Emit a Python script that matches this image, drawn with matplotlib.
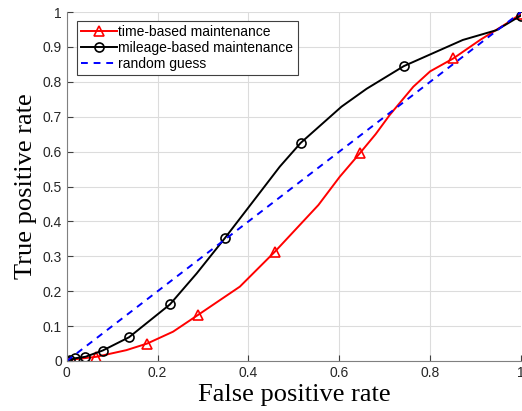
import matplotlib
matplotlib.use("Agg")
import matplotlib.pyplot as plt

# time-based maintenance curve (markers on a subset of points)
time_fpr = [0.0, 0.005, 0.065, 0.131, 0.177, 0.234, 0.289, 0.381, 0.458,
            0.554, 0.601, 0.645, 0.68, 0.711, 0.763, 0.80, 0.851, 0.91,
            0.968, 1.0]
time_tpr = [0.0, 0.003, 0.012, 0.031, 0.05, 0.084, 0.132, 0.213, 0.313,
            0.447, 0.528, 0.595, 0.65, 0.705, 0.786, 0.83, 0.867, 0.92,
            0.967, 0.995]
time_mark = [0, 2, 4, 6, 8, 11, 16, 19]

# mileage-based maintenance curve
mile_fpr = [0.0, 0.007, 0.019, 0.041, 0.079, 0.137, 0.227, 0.286, 0.348,
            0.40, 0.469, 0.515, 0.605, 0.66, 0.742, 0.872, 0.946, 1.0]
mile_tpr = [0.0, 0.003, 0.008, 0.012, 0.03, 0.068, 0.162, 0.251, 0.352,
            0.44, 0.557, 0.625, 0.729, 0.78, 0.845, 0.92, 0.948, 0.99]
mile_mark = [0, 1, 2, 3, 4, 5, 6, 8, 11, 14, 17]

guess = [0.0, 1.0]

fig = plt.figure(figsize=(5.22, 4.11), dpi=100)
ax = fig.add_axes([0.128, 0.1217, 0.87, 0.849])

ax.plot(time_fpr, time_tpr, color="red", lw=1.4, marker="^", markevery=time_mark,
        markersize=7, markerfacecolor="none", markeredgewidth=1.2,
        label="time-based maintenance")
ax.plot(mile_fpr, mile_tpr, color="black", lw=1.4, marker="o", markevery=mile_mark,
        markersize=6.5, markerfacecolor="none", markeredgewidth=1.2,
        label="mileage-based maintenance")
ax.plot(guess, guess, color="blue", lw=1.4, ls=(0, (3.5, 3)), label="random guess")

ax.set_xlim(0, 1)
ax.set_ylim(0, 1)
ax.set_xticks([0, 0.2, 0.4, 0.6, 0.8, 1])
ax.set_xticklabels(["0", "0.2", "0.4", "0.6", "0.8", "1"])
ax.set_yticks([i / 10 for i in range(11)])
ax.set_yticklabels(["0"] + [f"{i / 10:g}" for i in range(1, 10)] + ["1"])
ax.tick_params(direction="in", length=4, colors="#404040", labelsize=10,
               labelcolor="#262626")
for lbl in ax.get_xticklabels() + ax.get_yticklabels():
    lbl.set_family("Liberation Sans")
ax.grid(True, color="#dcdcdc", lw=0.8)
ax.set_axisbelow(True)
ax.spines["top"].set_visible(False)
ax.spines["right"].set_visible(False)
ax.spines["left"].set_color("#808080")
ax.spines["bottom"].set_color("#808080")

ax.set_xlabel("False positive rate", family="Liberation Serif", fontsize=19, labelpad=3)
ax.set_ylabel("True positive rate", family="Liberation Serif", fontsize=19, labelpad=4)

leg = ax.legend(loc="upper left", bbox_to_anchor=(0.022, 0.975), fancybox=False,
                framealpha=1, edgecolor="#404040", borderpad=0.3, labelspacing=0.15,
                handlelength=2.6, handletextpad=0.1, borderaxespad=0,
                prop={"family": "Liberation Sans", "size": 10})
leg.get_frame().set_linewidth(0.8)

fig.savefig("out.png", dpi=100)
